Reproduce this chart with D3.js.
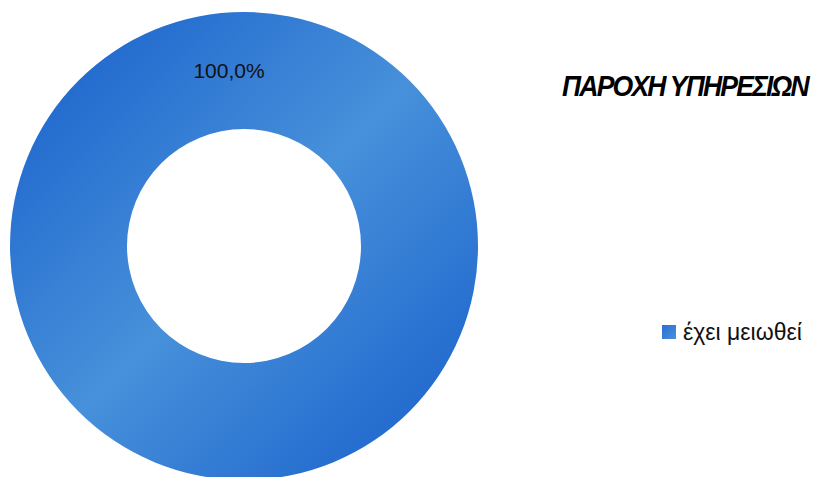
<!DOCTYPE html>
<html><head><meta charset="utf-8">
<script src="https://cdn.jsdelivr.net/npm/d3@7"></script>
<style>body{margin:0;background:#fff}svg{display:block}</style>
</head><body>
<script>
const title = "ΠΑΡΟΧΗ ΥΠΗΡΕΣΙΩΝ";
const categories = ["έχει μειωθεί"];
const values = [100];
const labels = ["100,0%"];

const W = 820, H = 477;
const cx = 244, cy = 246, rOuter = 234, rInner = 117;

const svg = d3.select("body").append("svg").attr("width", W).attr("height", H);
const defs = svg.append("defs");
const g1 = defs.append("linearGradient").attr("id", "grad")
  .attr("gradientUnits", "userSpaceOnUse")
  .attr("x1", -190).attr("y1", -190).attr("x2", 190).attr("y2", 190);
g1.append("stop").attr("offset", 0).attr("stop-color", "#1f67cd");
g1.append("stop").attr("offset", 0.5).attr("stop-color", "#4790da");
g1.append("stop").attr("offset", 1).attr("stop-color", "#1f67cd");
const g2 = defs.append("linearGradient").attr("id", "lgrad")
  .attr("x1", 0).attr("y1", 0).attr("x2", 1).attr("y2", 1);
g2.append("stop").attr("offset", 0).attr("stop-color", "#2a6fd0");
g2.append("stop").attr("offset", 1).attr("stop-color", "#4a90dc");

const pie = d3.pie().sort(null).value(d => d);
const arc = d3.arc().innerRadius(rInner).outerRadius(rOuter);
const arcs = pie(values);

const chart = svg.append("g").attr("transform", `translate(${cx},${cy})`);
chart.selectAll("path").data(arcs).enter().append("path")
  .attr("d", arc).attr("fill", "url(#grad)");

const midR = (rInner + rOuter) / 2;
chart.selectAll("text.lbl").data(arcs).enter().append("text")
  .attr("class", "lbl")
  .attr("x", d => midR * Math.sin(d.startAngle) - 15)
  .attr("y", d => -midR * Math.cos(d.startAngle) + 7)
  .attr("text-anchor", "middle")
  .attr("font-family", "Liberation Sans, Arial, sans-serif")
  .attr("font-size", 21).attr("fill", "#111")
  .text((d, i) => labels[i]);

const t = svg.append("text").attr("x", 0).attr("y", 0)
  .attr("font-family", "Liberation Sans, Arial, sans-serif")
  .attr("font-size", 29).attr("font-weight", "bold").attr("font-style", "italic")
  .attr("letter-spacing", -2)
  .attr("fill", "#000").text(title);
const natural = t.node().getComputedTextLength();
t.attr("transform", `translate(562,96) scale(${246 / natural},1)`);

const leg = svg.append("g").attr("transform", "translate(662,325)");
leg.selectAll("rect").data(categories).enter().append("rect")
  .attr("x", 0).attr("y", (d, i) => i * 24).attr("width", 14).attr("height", 14)
  .attr("fill", "url(#lgrad)");
leg.selectAll("text").data(categories).enter().append("text")
  .attr("x", 21).attr("y", (d, i) => i * 24 + 15)
  .attr("font-family", "Liberation Sans, Arial, sans-serif")
  .attr("font-size", 23).attr("fill", "#111").text(d => d);
</script>
</body></html>
